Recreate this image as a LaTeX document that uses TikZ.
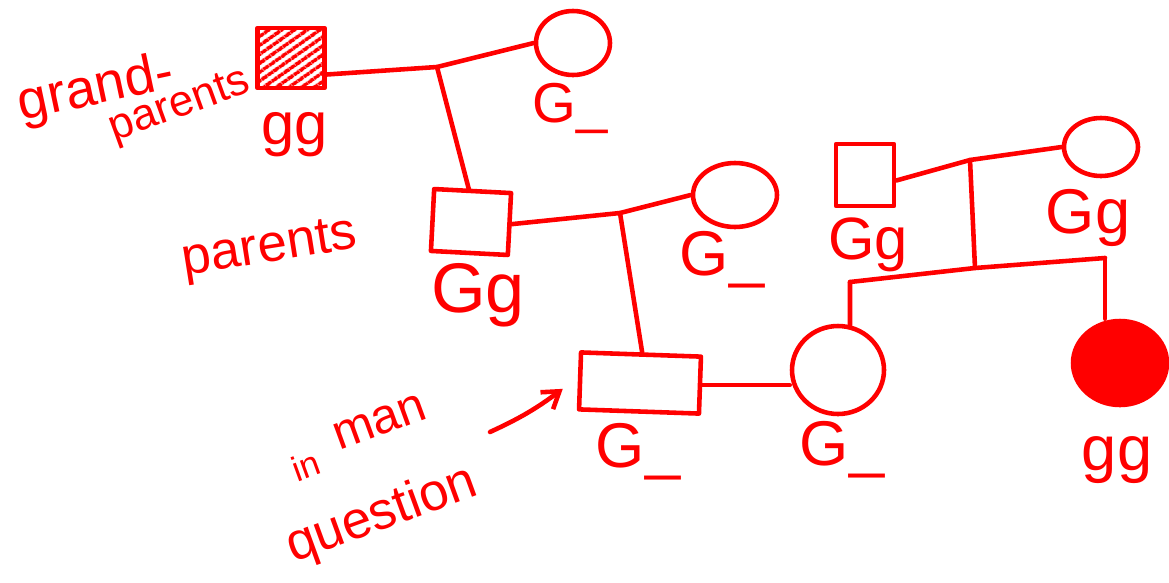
\documentclass[tikz,border=0pt]{standalone}
\usepackage{fontspec}
\setmainfont{Liberation Sans}
\usetikzlibrary{shapes.geometric,patterns.meta,arrows.meta,calc}
\definecolor{ink}{RGB}{255,0,0}
\tikzset{
  pen/.style={draw=ink, line width=2.6pt, line cap=round, line join=round},
  male/.style={pen, rectangle, inner sep=0pt},
  female/.style={pen, ellipse, inner sep=0pt},
  hatched/.style={pattern={Lines[angle=35,distance=4pt,line width=2.2pt]}, pattern color=ink},
  solidfill/.style={fill=ink},
  geno/.style={text=ink, inner sep=0pt},
  note/.style={text=ink, inner sep=0pt, font=\fontsize{28}{30}\selectfont}
}
\begin{document}
\begin{tikzpicture}[x=0.02cm, y=-0.02cm]
\useasboundingbox (0,0) rectangle (1169,582);

% grandparents
\node[male, hatched, minimum width=1.34cm, minimum height=1.2cm] (gf) at (291,58) {};
\node[female, minimum width=1.48cm, minimum height=1.28cm] (gm) at (573,43) {};
% left parents
\node[male, rotate=-3, minimum width=1.54cm, minimum height=1.24cm] (fa) at (471,222) {};
\node[female, minimum width=1.68cm, minimum height=1.28cm] (mo) at (735,195) {};
% right parents
\node[male, minimum width=1.16cm, minimum height=1.24cm] (rf) at (865,175) {};
\node[female, minimum width=1.48cm, minimum height=1.16cm] (rm) at (1101,147) {};
% children
\node[male, rotate=-2, minimum width=2.4cm, minimum height=1.14cm] (man) at (640,383) {};
\node[female, minimum width=1.84cm, minimum height=1.76cm] (wife) at (838,370) {};
\node[female, solidfill, minimum width=1.88cm, minimum height=1.68cm] (dau) at (1120,363) {};

% matings and lines of descent
\coordinate (m1) at (437,67);
\draw[pen] (gf.-25) -- (m1) -- (gm.west);
\draw[pen] (m1) -- (fa.97);

\coordinate (m2) at (620,213);
\draw[pen] (fa.east) -- (m2) -- (mo.west);
\draw[pen] (m2) -- (man.88);

\draw[pen] (man.east) -- (man.east -| wife.west);

\coordinate (m3) at (970,160);
\coordinate (sib) at (975,268);
\coordinate (sl) at (850,282);
\coordinate (sr) at (1105,258);
\draw[pen] (rf.-10) -- (m3) -- (rm.west);
\draw[pen] (m3) -- (sib);
\draw[pen] (sl) -- (sib) -- (sr);
\draw[pen] (sl) -- (wife.75);
\draw[pen] (sr) -- (sr |- dau.north);

% genotypes
\node[geno, font=\fontsize{34}{36}\selectfont] (t1) at (295,135) {gg};
\node[geno, font=\fontsize{32}{34}\selectfont] (t2) at (570,108) {G\_};
\node[geno, font=\fontsize{40}{42}\selectfont] (t3) at (478,295) {Gg};
\node[geno, font=\fontsize{36}{38}\selectfont] (t4) at (722,260) {G\_};
\node[geno, font=\fontsize{34}{36}\selectfont] (t5) at (868,245) {Gg};
\node[geno, font=\fontsize{36}{38}\selectfont] (t6) at (1088,218) {Gg};
\node[geno, font=\fontsize{36}{38}\selectfont] (t7) at (638,452) {G\_};
\node[geno, font=\fontsize{36}{38}\selectfont] (t8) at (842,450) {G\_};
\node[geno, font=\fontsize{36}{38}\selectfont] (t9) at (1117,460) {gg};

% generation notes
\node[note, rotate=12, font=\fontsize{31}{33}\selectfont] (n1) at (96,90) {grand-};
\node[note, rotate=20, font=\fontsize{25}{27}\selectfont] (n2) at (180,107) {parents};
\node[note, rotate=9, font=\fontsize{30}{32}\selectfont] (n3) at (270,250) {parents};
\node[note, rotate=20] (n4) at (380,422) {man};
\node[note, rotate=20, font=\fontsize{20}{22}\selectfont] (n5) at (306,466) {in};
\node[note, rotate=20, font=\fontsize{30}{32}\selectfont] (n6) at (382,516) {question};

\coordinate (tail) at (490,432);
\draw[pen, -{Straight Barb[length=9pt, width=12pt, line width=2.6pt]}] (tail) to[bend right=6] ($(man.west)+(-15,8)$);
\end{tikzpicture}
\end{document}
